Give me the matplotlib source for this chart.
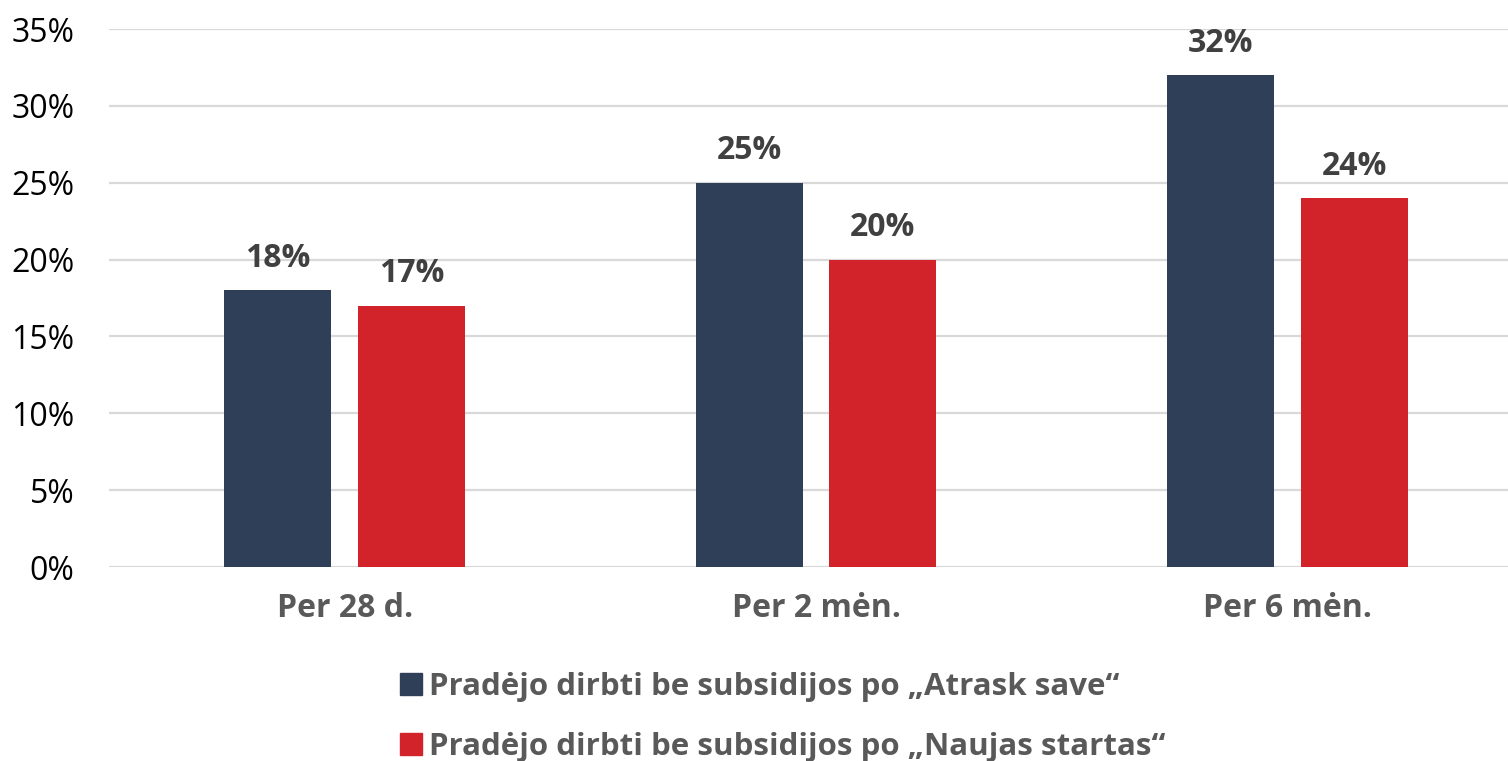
import matplotlib
matplotlib.use("Agg")
import matplotlib.pyplot as plt
from matplotlib.patches import Patch
import numpy as np

categories = ["Per 28 d.", "Per 2 mėn.", "Per 6 mėn."]
series_names = ["Pradėjo dirbti be subsidijos po „Atrask save“",
                "Pradėjo dirbti be subsidijos po „Naujas startas“"]
atrask = [18, 25, 32]
naujas = [17, 20, 24]
yticks = [0, 5, 10, 15, 20, 25, 30, 35]
ytick_labels = ["0%", "5%", "10%", "15%", "20%", "25%", "30%", "35%"]

navy = "#2E3F57"
red = "#D2222A"
label_col = "#404040"
cat_col = "#595959"
FS = 23

plt.rcParams['font.family'] = ['Open Sans', 'DejaVu Sans']

fig = plt.figure(figsize=(15.08, 7.61), dpi=100)
ax = fig.add_axes([109/1508, 1 - 567/761, 1414/1508, (567 - 29)/761])

x = np.arange(len(categories))
w = 0.227
off = 0.142
b1 = ax.bar(x - off, atrask, w, color=navy, zorder=3)
b2 = ax.bar(x + off, naujas, w, color=red, zorder=3)

for bars, vals in ((b1, atrask), (b2, naujas)):
    for r, v in zip(bars, vals):
        ax.annotate(f"{v}%", (r.get_x() + r.get_width() / 2, v),
                    xytext=(0, 11), textcoords="offset points",
                    ha="center", va="bottom", fontsize=FS, fontweight="bold",
                    color=label_col)

ax.set_xlim(-0.5, 2.5)
ax.set_ylim(0, 35)
ax.set_yticks(yticks)
ax.set_yticklabels(ytick_labels, fontsize=FS, color="black")
ax.set_xticks(x)
ax.set_xticklabels(categories, fontsize=FS, fontweight="bold", color=cat_col)
ax.tick_params(axis="y", length=0, pad=25)
ax.tick_params(axis="x", length=0, pad=18)
ax.grid(axis="y", color="#D9D9D9", linewidth=1.6, zorder=0)
for s in ax.spines.values():
    s.set_visible(False)

handles = [Patch(color=navy), Patch(color=red)]
leg = fig.legend(handles, series_names, loc="upper left",
                 bbox_to_anchor=(400/1508, 1 - 672/761), frameon=False,
                 borderpad=0, borderaxespad=0,
                 prop={"size": 22.5, "weight": "bold"}, labelcolor=cat_col,
                 handlelength=0.7, handleheight=0.7, handletextpad=0.22,
                 labelspacing=0.97)

fig.savefig("out.png", dpi=100)
